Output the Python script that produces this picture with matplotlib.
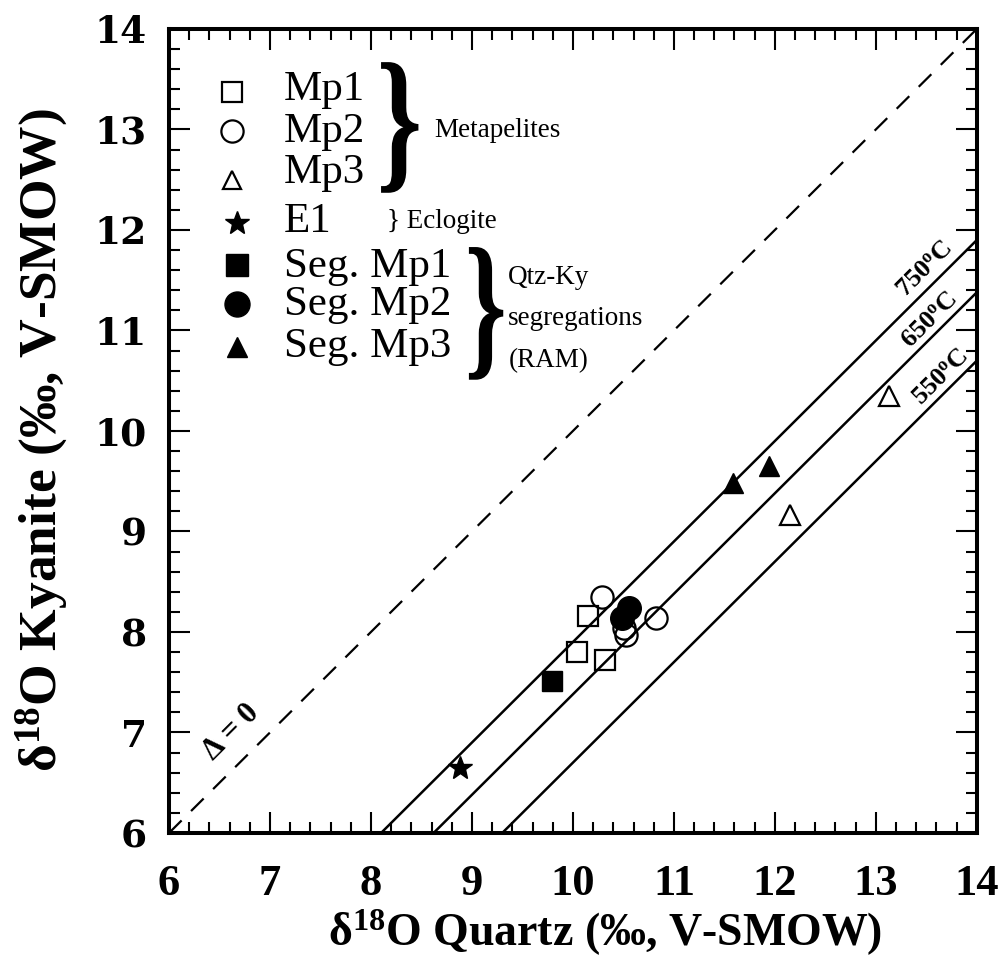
import matplotlib
matplotlib.use("Agg")
import matplotlib.pyplot as plt
from matplotlib.ticker import MultipleLocator
from matplotlib.textpath import TextPath
from matplotlib.font_manager import FontProperties
from matplotlib.patches import PathPatch
from matplotlib.transforms import Affine2D

plt.rcParams['font.family'] = ['Liberation Serif', 'DejaVu Serif']
plt.rcParams['mathtext.fontset'] = 'custom'
plt.rcParams['mathtext.rm'] = 'Liberation Serif'
plt.rcParams['mathtext.bf'] = 'Liberation Serif:bold'
plt.rcParams['mathtext.it'] = 'Liberation Serif:italic'
plt.rcParams['mathtext.default'] = 'bf'

# --- data: delta18O quartz (x) vs delta18O kyanite (y), permil V-SMOW ---
mp1_x = [10.15, 10.04, 10.32]
mp1_y = [8.16, 7.80, 7.72]
mp2_x = [10.29, 10.82, 10.51, 10.53]
mp2_y = [8.35, 8.14, 8.04, 7.97]
mp3_x = [12.15, 13.13]
mp3_y = [9.16, 10.35]
e1_x = [8.88]
e1_y = [6.65]
seg_mp1_x = [9.79]
seg_mp1_y = [7.51]
seg_mp2_x = [10.49, 10.56]
seg_mp2_y = [8.14, 8.24]
seg_mp3_x = [11.59, 11.94]
seg_mp3_y = [9.48, 9.65]

# quartz-kyanite fractionation (Delta) for each isotherm
isotherm_labels = ['750', '650', '550']
isotherm_delta = [2.10, 2.62, 3.30]

axis_range = [6, 14]
tick_values = [6, 7, 8, 9, 10, 11, 12, 13, 14]

fig = plt.figure(figsize=(10.06, 9.59), dpi=100)
ax = fig.add_axes([0.168, 0.1314, 0.803, 0.8384])
ax.set_xlim(axis_range)
ax.set_ylim(axis_range)

# 1:1 line (Delta = 0)
ax.plot(axis_range, axis_range, color='black', lw=1.6, dashes=(8, 6), zorder=2)

# isotherms: y = x - Delta
for lab, d in zip(isotherm_labels, isotherm_delta):
    xs = [axis_range[0] + d, axis_range[1]]
    ys = [x - d for x in xs]
    ax.plot(xs, ys, color='black', lw=1.8, solid_capstyle='butt', zorder=2)

label_pos = {'750': (13.49, 11.61), '650': (13.54, 11.10), '550': (13.64, 10.53)}
for lab in isotherm_labels:
    px, py = label_pos[lab]
    ax.text(px, py, lab + r'$^{o}$C', fontsize=19, fontweight='bold',
            rotation=45, rotation_mode='anchor', ha='center', va='center', zorder=3)

ax.text(6.62, 7.0, r'$\Delta$ = 0', fontsize=22, fontweight='bold', rotation=45,
        rotation_mode='anchor', ha='center', va='center', zorder=3)

open_kw = dict(linestyle='none', markerfacecolor='none', markeredgecolor='black',
               markeredgewidth=1.6, zorder=4)
fill_kw = dict(linestyle='none', color='black', zorder=5)

ax.plot(mp1_x, mp1_y, marker='s', markersize=14, **open_kw)
ax.plot(mp2_x, mp2_y, marker='o', markersize=16, **open_kw)
ax.plot(mp3_x, mp3_y, marker='^', markersize=15, **open_kw)
ax.plot(e1_x, e1_y, marker='*', markersize=18, **fill_kw)
ax.plot(seg_mp1_x, seg_mp1_y, marker='s', markersize=15, **fill_kw)
ax.plot(seg_mp2_x, seg_mp2_y, marker='o', markersize=17, **fill_kw)
ax.plot(seg_mp3_x, seg_mp3_y, marker='^', markersize=15, **fill_kw)

# --- key ---
key_rows = [
    ('Mp1', 's', True, 13.37, 13.29, 14),
    ('Mp2', 'o', True, 12.98, 12.88, 16),
    ('Mp3', '^', True, 12.50, 12.47, 13),
    ('E1', '*', False, 12.07, 11.98, 18),
    ('Seg. Mp1', 's', False, 11.65, 11.53, 16),
    ('Seg. Mp2', 'o', False, 11.26, 11.15, 18),
    ('Seg. Mp3', '^', False, 10.84, 10.74, 15),
]
for name, mk, is_open, my, ty, ms in key_rows:
    mx = 6.62 if is_open else 6.67
    if is_open:
        ax.plot([mx], [my], marker=mk, markersize=ms, **open_kw)
    else:
        ax.plot([mx], [my], marker=mk, markersize=ms, **fill_kw)
    ax.text(7.14, ty, name, fontsize=31, va='baseline', ha='left', zorder=5)


def draw_brace(x0, x1, y0, y1):
    tp = TextPath((0, 0), '}', size=1,
                  prop=FontProperties(family='Liberation Serif', weight='bold'))
    ext = tp.get_extents()
    tr = (Affine2D().translate(-ext.x0, -ext.y0)
          .scale((x1 - x0) / ext.width, (y1 - y0) / ext.height)
          .translate(x0, y0))
    ax.add_patch(PathPatch(tr.transform_path(tp), facecolor='black',
                           edgecolor='none', transform=ax.transData, zorder=5))


draw_brace(8.10, 8.47, 12.37, 13.67)
ax.text(8.63, 12.93, 'Metapelites', fontsize=19.5, va='baseline', ha='left')
ax.text(8.16, 12.02, '} Eclogite', fontsize=19.5, va='baseline', ha='left')

draw_brace(8.97, 9.31, 10.51, 11.83)
ax.text(9.36, 11.46, 'Qtz-Ky', fontsize=19.5, va='baseline', ha='left')
ax.text(9.36, 11.05, 'segregations', fontsize=19.5, va='baseline', ha='left')
ax.text(9.36, 10.64, '(RAM)', fontsize=19.5, va='baseline', ha='left')

# --- axes styling ---
ax.set_xticks(tick_values)
ax.set_yticks(tick_values)
ax.xaxis.set_minor_locator(MultipleLocator(0.2))
ax.yaxis.set_minor_locator(MultipleLocator(0.2))
ax.tick_params(which='both', direction='in', top=True, right=True, width=1.5)
ax.tick_params(which='major', length=15)
ax.tick_params(which='minor', length=8)
ax.tick_params(axis='x', pad=22)
ax.tick_params(axis='y', pad=16)
for sp in ax.spines.values():
    sp.set_linewidth(2.9)

ax.set_xticklabels([str(v) for v in tick_values], fontsize=32, fontweight='bold',
                   family='Liberation Serif')
ax.set_yticklabels([str(v) for v in tick_values], fontsize=27, fontweight='bold',
                   family='DejaVu Serif')

ax.set_xlabel(r'δ$^{18}$O Quartz (‰, V-SMOW)', fontsize=33, fontweight='bold')
ax.set_ylabel(r'δ$^{18}$O Kyanite (‰, V-SMOW)', fontsize=38.5, fontweight='bold')
ax.xaxis.set_label_coords(0.54, -0.093)
ax.yaxis.set_label_coords(-0.123, 0.489)

fig.savefig('out.png', dpi=100)
